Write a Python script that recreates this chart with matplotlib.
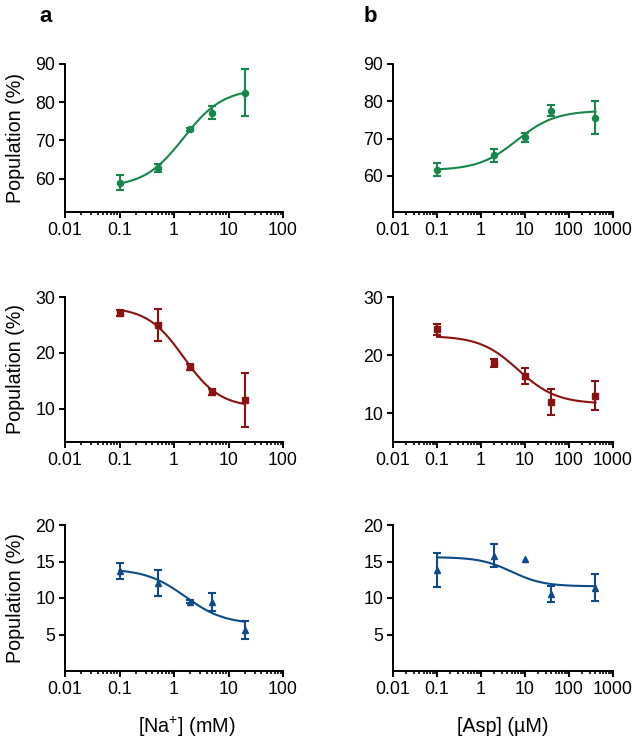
import numpy as np
import matplotlib
matplotlib.use("Agg")
import matplotlib.pyplot as plt
from matplotlib.ticker import LogLocator, FixedLocator, NullFormatter, FuncFormatter

plt.rcParams['font.family'] = ['Liberation Sans', 'DejaVu Sans']
plt.rcParams['mathtext.fontset'] = 'custom'
plt.rcParams['mathtext.rm'] = 'Liberation Sans'
plt.rcParams['mathtext.default'] = 'regular'

# ---------------- data ----------------
na_conc = [0.1, 0.5, 2, 5, 20]          # mM
asp_conc = [0.1, 2, 10, 40, 400]        # uM

na_green = [59.0, 62.8, 72.9, 77.3, 82.5]
na_green_err = [1.9, 1.0, 0.3, 1.6, 6.1]
na_red = [27.2, 25.0, 17.4, 13.0, 11.6]
na_red_err = [0.55, 2.8, 0.55, 0.5, 4.85]
na_blue = [13.7, 12.1, 9.5, 9.5, 5.6]
na_blue_err = [1.1, 1.8, 0.2, 1.25, 1.2]

asp_green = [61.7, 65.5, 70.3, 77.5, 75.6]
asp_green_err = [1.7, 1.7, 1.2, 1.5, 4.4]
asp_red = [24.4, 18.6, 16.4, 11.9, 13.0]
asp_red_err = [0.9, 0.7, 1.35, 2.3, 2.5]
asp_blue = [13.8, 15.8, 15.4, 10.5, 11.4]
asp_blue_err = [2.35, 1.6, np.nan, 1.1, 1.85]

# fitted logistic parameters: bottom, top, EC50, hill
na_green_fit = [57.8, 83.6, 1.5, 1.2]
na_red_fit = [28.2, 10.2, 1.5, 1.3]
na_blue_fit = [14.0, 6.4, 1.6, 1.2]
asp_green_fit = [61.5, 77.5, 6.5, 1.0]
asp_red_fit = [23.3, 11.6, 7.0, 1.0]
asp_blue_fit = [15.6, 11.6, 5.0, 1.2]

ylims = [(51.3, 90), (4, 30), (0, 20)]
ylims_b = [(50.3, 90), (5, 30), (0, 20)]
yticks = [[60, 70, 80, 90], [10, 20, 30], [5, 10, 15, 20]]

colors = ['#16874a', '#8c1111', '#0d4a8c']
markers = ['o', 's', '^']
msizes = [4.4, 4.7, 4.8]

W, H = 643, 750
fig = plt.figure(figsize=(W / 100, H / 100), dpi=100)

def logistic(x, p):
    a, b, c, h = p
    return a + (b - a) / (1 + (c / x) ** h)

col_x = [(65, 218), (393, 220)]
row_y = [(64, 212), (297, 442), (525, 671)]

panels = [
    [(na_conc, na_green, na_green_err, na_green_fit),
     (na_conc, na_red, na_red_err, na_red_fit),
     (na_conc, na_blue, na_blue_err, na_blue_fit)],
    [(asp_conc, asp_green, asp_green_err, asp_green_fit),
     (asp_conc, asp_red, asp_red_err, asp_red_fit),
     (asp_conc, asp_blue, asp_blue_err, asp_blue_fit)],
]
xlims = [(0.01, 100), (0.01, 1000)]
xticks = [[0.01, 0.1, 1, 10, 100], [0.01, 0.1, 1, 10, 100, 1000]]

def fmt(v, pos):
    if v >= 1:
        return '%d' % round(v)
    return ('%g' % v)

for c in range(2):
    for r in range(3):
        x0, w = col_x[c]
        yt, yb = row_y[r]
        ax = fig.add_axes([x0 / W, (H - yb) / H, w / W, (yb - yt) / H])
        xs, ys, es, fp = panels[c][r]
        xx = np.logspace(np.log10(xs[0]), np.log10(xs[-1]), 300)
        ax.plot(xx, logistic(xx, fp), color=colors[r], lw=1.5, zorder=2)
        ax.errorbar(xs, ys, yerr=np.array(es, dtype=float), fmt=markers[r],
                    color=colors[r], ms=msizes[r], elinewidth=1.5,
                    capsize=2.8, capthick=1.5, zorder=3)
        ax.set_xscale('log')
        ax.set_xlim(*xlims[c])
        ax.set_ylim(*(ylims if c == 0 else ylims_b)[r])
        ax.xaxis.set_major_locator(FixedLocator(xticks[c]))
        ax.xaxis.set_major_formatter(FuncFormatter(fmt))
        ax.xaxis.set_minor_locator(LogLocator(base=10, subs=np.arange(2, 10)))
        ax.xaxis.set_minor_formatter(NullFormatter())
        ax.set_yticks(yticks[r])
        for s in ['top', 'right']:
            ax.spines[s].set_visible(False)
        for s in ['left', 'bottom']:
            ax.spines[s].set_linewidth(1.4)
        ax.tick_params(which='major', direction='out', length=4, width=1.4,
                       labelsize=12.8, pad=3)
        ax.tick_params(which='minor', direction='out', length=2.4, width=1.2)
        if c == 0:
            fig.text(15.5 / W, 1 - ((yt + yb) / 2) / H, 'Population (%)',
                     rotation=90, ha='center', va='center', fontsize=14.2)

fig.text(46 / W, 1 - 17 / H, 'a', fontsize=16, fontweight='bold', ha='center', va='center')
fig.text(370 / W, 1 - 17 / H, 'b', fontsize=16, fontweight='bold', ha='center', va='center')
fig.text(187 / W, 1 - 727 / H, '[Na$^{+}$] (mM)', fontsize=14.2, ha='center', va='center')
fig.text(503 / W, 1 - 727 / H, '[Asp] (\u00b5M)', fontsize=14.2, ha='center', va='center')

fig.savefig('out.png', dpi=100)
